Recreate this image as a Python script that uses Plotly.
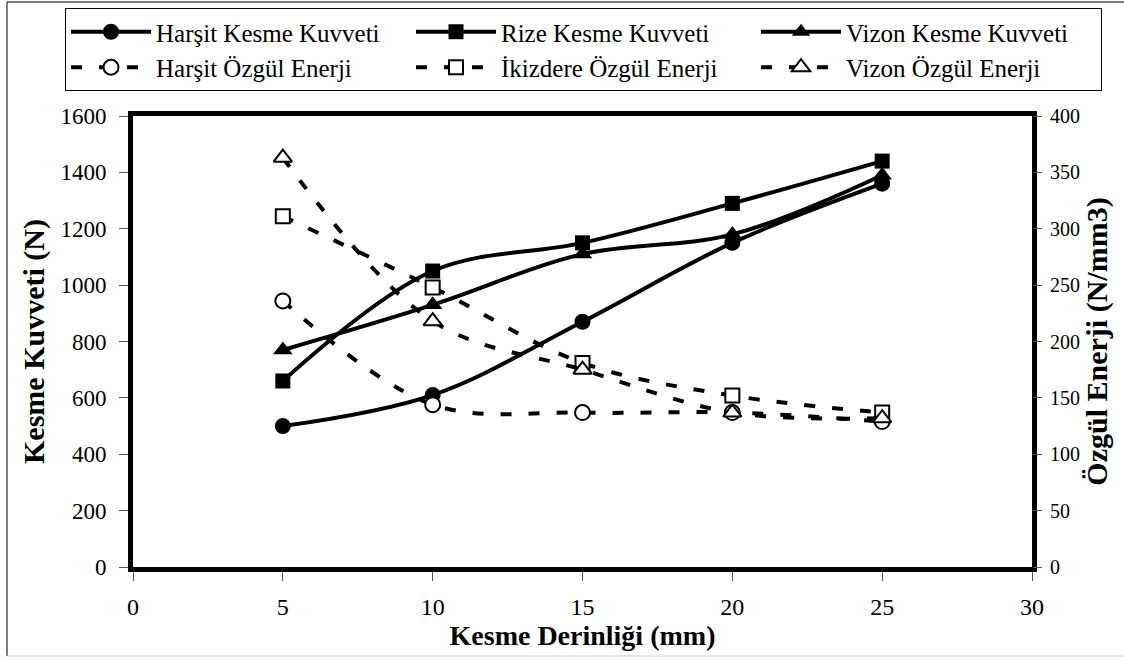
import plotly.graph_objects as go

# Cutting depth (mm)
depth = [5, 10, 15, 20, 25]

# Cutting force (N) – left axis
harsit_force = [500, 610, 870, 1150, 1360]
rize_force = [660, 1050, 1150, 1290, 1440]
vizon_force = [770, 930, 1110, 1180, 1390]

# Specific energy (N/mm3) – right axis
harsit_energy = [236, 144, 137, 137, 129]
ikizdere_energy = [311, 248, 181, 152, 137]
vizon_energy = [363, 218, 175, 137, 132]

left_ticks = [0, 200, 400, 600, 800, 1000, 1200, 1400, 1600]
right_ticks = [0, 50, 100, 150, 200, 250, 300, 350, 400]
x_ticks = [0, 5, 10, 15, 20, 25, 30]

FONT = "Liberation Serif"
W, H = 1124, 661
ML, MR, MT, MB = 133, 92, 116, 94

fig = go.Figure()

solid = dict(color="black", width=4, shape="spline", smoothing=1)
dashed = dict(color="black", width=4, shape="spline", smoothing=1, dash="11px,17px")
open_marker = dict(color="white", line=dict(color="black", width=2))

fig.add_trace(go.Scatter(x=depth, y=harsit_force, name="Harşit Kesme Kuvveti",
                         mode="lines+markers", line=solid,
                         marker=dict(symbol="circle", size=16, color="black")))
fig.add_trace(go.Scatter(x=depth, y=rize_force, name="Rize Kesme Kuvveti",
                         mode="lines+markers", line=solid,
                         marker=dict(symbol="square", size=15, color="black")))
fig.add_trace(go.Scatter(x=depth, y=vizon_force, name="Vizon Kesme Kuvveti",
                         mode="lines+markers", line=solid,
                         marker=dict(symbol="triangle-up", size=17, color="black")))

fig.add_trace(go.Scatter(x=depth, y=harsit_energy, name="Harşit Özgül Enerji",
                         mode="lines+markers", line=dashed, yaxis="y2",
                         marker=dict(symbol="circle", size=15, **open_marker)))
fig.add_trace(go.Scatter(x=depth, y=ikizdere_energy, name="İkizdere Özgül Enerji",
                         mode="lines+markers", line=dashed, yaxis="y2",
                         marker=dict(symbol="square", size=14, **open_marker)))
fig.add_trace(go.Scatter(x=depth, y=vizon_energy, name="Vizon Özgül Enerji",
                         mode="lines+markers", line=dashed, yaxis="y2",
                         marker=dict(symbol="triangle-up", size=16, **open_marker)))

pw = W - ML - MR
ph = H - MT - MB

def px(xpix):
    return (xpix - ML) / pw

def py(ypix):
    return (H - MB - ypix) / ph

fig.update_layout(
    width=W, height=H,
    margin=dict(l=ML, r=MR, t=MT, b=MB, autoexpand=False),
    paper_bgcolor="white", plot_bgcolor="white",
    font=dict(family=FONT, color="black"),
    showlegend=True,
    legend=dict(
        orientation="h",
        x=px(65), y=py(8), xanchor="left", yanchor="top",
        bgcolor="white", bordercolor="black", borderwidth=1,
        font=dict(family=FONT, size=25, color="black"),
        entrywidth=250, entrywidthmode="pixels",
        itemwidth=80, traceorder="normal",
    ),
    xaxis=dict(
        range=[0, 30], tickvals=x_ticks, ticktext=[str(v) for v in x_ticks],
        showgrid=False, zeroline=False,
        showline=True, linecolor="black", linewidth=5, mirror=True,
        ticks="outside", ticklen=9, tickwidth=1, tickcolor="#555",
        ticklabelstandoff=5,
        tickfont=dict(family=FONT, size=24),
        title=dict(text="<b>Kesme Derinliği (mm)</b>", standoff=8,
                   font=dict(family=FONT, size=28)),
    ),
    yaxis=dict(
        range=[0, 1600], tickvals=left_ticks, ticktext=[str(v) for v in left_ticks],
        showgrid=False, zeroline=False,
        showline=True, linecolor="black", linewidth=5, mirror=True,
        ticks="outside", ticklen=9, tickwidth=1, tickcolor="#555",
        ticklabelstandoff=8,
        tickfont=dict(family=FONT, size=23),
        title=dict(text="<b>Kesme Kuvveti (N)</b>", standoff=8,
                   font=dict(family=FONT, size=30)),
    ),
    yaxis2=dict(
        range=[0, 400], tickvals=right_ticks, ticktext=[str(v) for v in right_ticks],
        overlaying="y", side="right",
        showgrid=False, zeroline=False, showline=False,
        ticks="outside", ticklen=9, tickwidth=1, tickcolor="#555",
        ticklabelstandoff=4,
        tickfont=dict(family=FONT, size=20),
        title=dict(text="<b>Özgül Enerji (N/mm3)</b>", standoff=2,
                   font=dict(family=FONT, size=30)),
    ),
    shapes=[
        # thin frame around the chart area
        dict(type="line", xref="paper", yref="paper",
             x0=px(7), x1=px(W + 5), y0=py(2), y1=py(2),
             line=dict(color="black", width=1)),
        dict(type="line", xref="paper", yref="paper",
             x0=px(7), x1=px(7), y0=py(2), y1=py(656),
             line=dict(color="black", width=1)),
        dict(type="line", xref="paper", yref="paper",
             x0=px(7), x1=px(W + 5), y0=py(656), y1=py(656),
             line=dict(color="#cccccc", width=1)),
    ],
)

fig.write_html("out.html")
